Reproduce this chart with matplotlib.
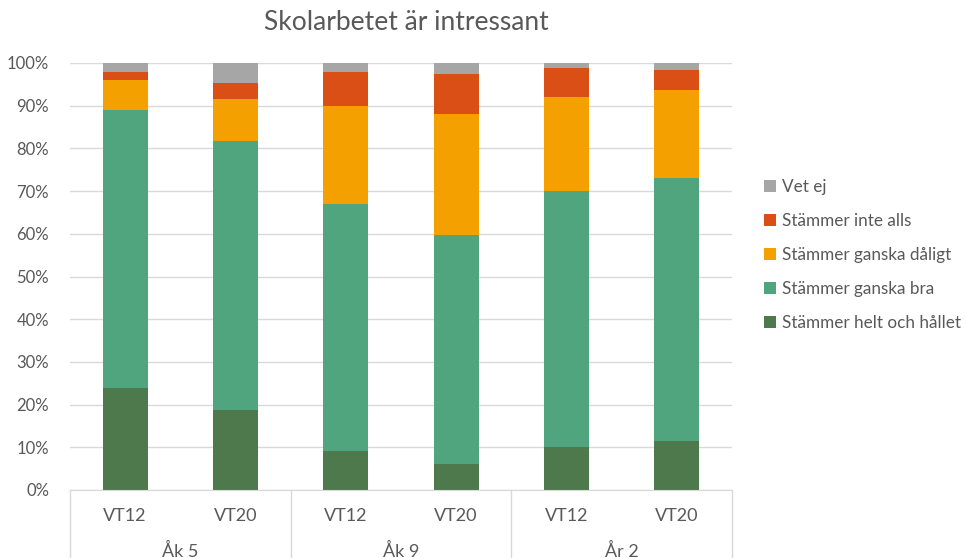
import numpy as np
import matplotlib
matplotlib.use("Agg")
import matplotlib.pyplot as plt
import matplotlib.transforms as mtransforms

plt.rcParams['font.family'] = ['Lato', 'DejaVu Sans']

# data (percent)
terms = ['VT12', 'VT20', 'VT12', 'VT20', 'VT12', 'VT20']
groups = ['Åk 5', 'Åk 9', 'År 2']
helt = [24.0, 18.7, 9.1, 6.1, 10.1, 11.5]
ganska_bra = [65.0, 63.0, 57.9, 53.6, 59.9, 61.6]
ganska_daligt = [7.0, 9.9, 22.9, 28.4, 22.0, 20.6]
inte_alls = [1.9, 3.7, 8.0, 9.3, 6.8, 4.7]
vet_ej = [2.1, 4.7, 2.1, 2.6, 1.2, 1.6]

series = [
    ('Stämmer helt och hållet', helt, '#4E794C'),
    ('Stämmer ganska bra', ganska_bra, '#50A47E'),
    ('Stämmer ganska dåligt', ganska_daligt, '#F4A000'),
    ('Stämmer inte alls', inte_alls, '#DA4F16'),
    ('Vet ej', vet_ej, '#A6A6A6'),
]

fig = plt.figure(figsize=(9.66, 5.58), dpi=100)
ax = fig.add_axes([70 / 966, 1 - 490 / 558, (732 - 70) / 966, (490 - 63) / 558])

x = np.arange(len(terms))
bottom = np.zeros(len(terms))
handles = []
for name, vals, col in series:
    b = ax.bar(x, vals, 0.41, bottom=bottom, color=col, label=name, zorder=2)
    bottom += np.array(vals)
    handles.append(b)

ax.set_xlim(-0.5, len(terms) - 0.5)
ax.set_ylim(0, 100)
ax.set_yticks(np.arange(0, 101, 10))
ax.set_yticklabels([f'{v}%' for v in range(0, 101, 10)], fontsize=12, color='#595959')
ax.yaxis.grid(True, color='#D9D9D9', linewidth=1, zorder=0)
ax.tick_params(axis='y', length=0, pad=15)
ax.tick_params(axis='x', length=0)
ax.set_xticks([])
for s in ['top', 'right', 'left']:
    ax.spines[s].set_visible(False)
ax.spines['bottom'].set_color('#D9D9D9')

# two-level category axis
trans = mtransforms.blended_transform_factory(ax.transData, ax.transAxes)
ybot = -(558 - 490) / (490 - 63)
for sx in [-0.5, 1.5, 3.5, 5.5]:
    ax.plot([sx, sx], [0, ybot], transform=trans, color='#D9D9D9', lw=1, clip_on=False)
for i, t in enumerate(terms):
    ax.text(i, -(516 - 490) / (490 - 63), t, transform=trans, ha='center', va='center',
            fontsize=13, color='#595959')
for g, name in enumerate(groups):
    ax.text(2 * g + 0.5, -(551 - 490) / (490 - 63), name, transform=trans, ha='center',
            va='center', fontsize=13, color='#595959')

fig.text(406 / 966, 1 - 23 / 558, 'Skolarbetet är intressant', ha='center', va='center',
         fontsize=19, color='#595959')

leg = fig.legend(handles[::-1], [s[0] for s in series][::-1], loc='center left',
                 bbox_to_anchor=(764 / 966, 1 - 255 / 558), frameon=False,
                 borderpad=0, borderaxespad=0,
                 fontsize=12.3, labelspacing=1.05, handlelength=0.7, handleheight=0.7,
                 handletextpad=0.35)
for t in leg.get_texts():
    t.set_color('#595959')

fig.savefig('out.png', dpi=100)
